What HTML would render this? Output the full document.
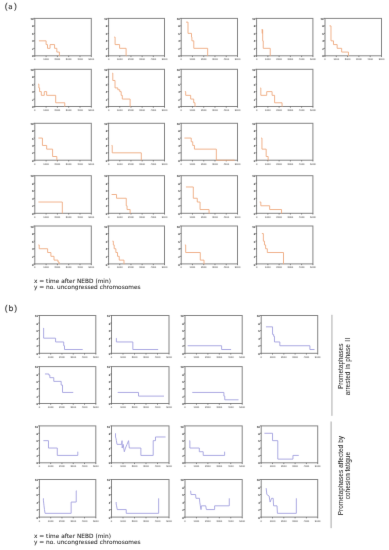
<!DOCTYPE html>
<html><head><meta charset="utf-8"><title>Figure</title>
<style>
html,body{margin:0;padding:0;background:#fff;width:389px;height:550px;overflow:hidden}
svg{display:block}
.xtb{text-rendering:geometricPrecision;font-family:"Liberation Sans",Arial,sans-serif;font-size:2.55px;fill:#3c3c3c;text-anchor:middle}
.yt{text-rendering:geometricPrecision;font-family:"Liberation Sans",Arial,sans-serif;font-size:2.8px;fill:#383838;stroke:#383838;stroke-width:0.1px;text-anchor:end}
.xt{text-rendering:geometricPrecision;font-family:"Liberation Sans",Arial,sans-serif;font-size:3.1px;fill:#383838;stroke:#383838;stroke-width:0.1px;text-anchor:middle}
.cap{font-family:"DejaVu Sans","Liberation Sans",sans-serif;font-size:5.8px;fill:#1a1a1a;stroke:#1a1a1a;stroke-width:0.04px}
.pl{text-rendering:geometricPrecision;font-family:"Liberation Sans",Arial,sans-serif;font-size:8.6px;fill:#333;stroke:#333;stroke-width:0.1px}
.side{font-family:"Liberation Sans",Arial,sans-serif;font-size:6.5px;fill:#2a2a2a;stroke:#2a2a2a;stroke-width:0.03px;text-anchor:middle}
</style></head>
<body>
<svg width="389" height="550" viewBox="0 0 389 550">
<defs><filter id="bl" x="0" y="0" width="389" height="550" filterUnits="userSpaceOnUse"><feConvolveMatrix order="3" kernelMatrix="1 16 1 16 256 16 1 16 1" edgeMode="none"/></filter></defs>
<rect width="389" height="550" fill="#fff"/>
<g filter="url(#bl)">
<text x="4.8" y="8.9" class="pl">(<tspan dx="0.54" dy="-0.3" font-size="7.2" stroke-width="0.12" font-family="DejaVu Sans">a</tspan><tspan dx="1.35" dy="0.3">)</tspan></text>
<text x="4.8" y="310.9" class="pl">(<tspan dx="0.9" font-size="7.8" stroke-width="0.14" font-family="DejaVu Sans">b</tspan><tspan dx="0.6">)</tspan></text>
<rect x="34.80" y="18.40" width="56.50" height="37.40" fill="none" stroke="#858585" stroke-width="1.0"/>
<line x1="33.50" y1="55.80" x2="34.80" y2="55.80" stroke="#444" stroke-width="0.6"/>
<text x="33.50" y="57.40" class="yt">0</text>
<line x1="33.50" y1="48.32" x2="34.80" y2="48.32" stroke="#444" stroke-width="0.6"/>
<text x="33.50" y="49.92" class="yt">2</text>
<line x1="33.50" y1="40.84" x2="34.80" y2="40.84" stroke="#444" stroke-width="0.6"/>
<text x="33.50" y="42.44" class="yt">4</text>
<line x1="33.50" y1="33.36" x2="34.80" y2="33.36" stroke="#444" stroke-width="0.6"/>
<text x="33.50" y="34.96" class="yt">6</text>
<line x1="33.50" y1="25.88" x2="34.80" y2="25.88" stroke="#444" stroke-width="0.6"/>
<text x="33.50" y="27.48" class="yt">8</text>
<line x1="33.50" y1="18.40" x2="34.80" y2="18.40" stroke="#444" stroke-width="0.6"/>
<text x="33.50" y="20.00" class="yt">10</text>
<line x1="34.80" y1="55.80" x2="34.80" y2="57.10" stroke="#444" stroke-width="0.6"/>
<text x="34.80" y="60.20" class="xtb">0</text>
<line x1="46.10" y1="55.80" x2="46.10" y2="57.10" stroke="#444" stroke-width="0.6"/>
<text x="46.10" y="60.20" class="xtb">1000</text>
<line x1="57.40" y1="55.80" x2="57.40" y2="57.10" stroke="#444" stroke-width="0.6"/>
<text x="57.40" y="60.20" class="xtb">2000</text>
<line x1="68.70" y1="55.80" x2="68.70" y2="57.10" stroke="#444" stroke-width="0.6"/>
<text x="68.70" y="60.20" class="xtb">3000</text>
<line x1="80.00" y1="55.80" x2="80.00" y2="57.10" stroke="#444" stroke-width="0.6"/>
<text x="80.00" y="60.20" class="xtb">4000</text>
<line x1="91.30" y1="55.80" x2="91.30" y2="57.10" stroke="#444" stroke-width="0.6"/>
<text x="91.30" y="60.20" class="xtb">5000</text>
<polyline points="38.92,40.84 46.10,40.84 46.10,44.58 47.51,44.58 47.51,48.32 50.05,48.32 50.05,44.58 54.57,44.58 54.57,48.32 56.83,48.32 56.83,52.06 59.38,52.06 59.38,55.80 59.94,55.80" fill="none" stroke="#eeaa80" stroke-width="0.9" stroke-linejoin="round"/>
<rect x="108.60" y="18.40" width="55.90" height="37.40" fill="none" stroke="#858585" stroke-width="1.0"/>
<line x1="107.30" y1="55.80" x2="108.60" y2="55.80" stroke="#444" stroke-width="0.6"/>
<text x="107.30" y="57.40" class="yt">0</text>
<line x1="107.30" y1="48.32" x2="108.60" y2="48.32" stroke="#444" stroke-width="0.6"/>
<text x="107.30" y="49.92" class="yt">2</text>
<line x1="107.30" y1="40.84" x2="108.60" y2="40.84" stroke="#444" stroke-width="0.6"/>
<text x="107.30" y="42.44" class="yt">4</text>
<line x1="107.30" y1="33.36" x2="108.60" y2="33.36" stroke="#444" stroke-width="0.6"/>
<text x="107.30" y="34.96" class="yt">6</text>
<line x1="107.30" y1="25.88" x2="108.60" y2="25.88" stroke="#444" stroke-width="0.6"/>
<text x="107.30" y="27.48" class="yt">8</text>
<line x1="107.30" y1="18.40" x2="108.60" y2="18.40" stroke="#444" stroke-width="0.6"/>
<text x="107.30" y="20.00" class="yt">10</text>
<line x1="108.60" y1="55.80" x2="108.60" y2="57.10" stroke="#444" stroke-width="0.6"/>
<text x="108.60" y="60.20" class="xtb">0</text>
<line x1="119.78" y1="55.80" x2="119.78" y2="57.10" stroke="#444" stroke-width="0.6"/>
<text x="119.78" y="60.20" class="xtb">1000</text>
<line x1="130.96" y1="55.80" x2="130.96" y2="57.10" stroke="#444" stroke-width="0.6"/>
<text x="130.96" y="60.20" class="xtb">2000</text>
<line x1="142.14" y1="55.80" x2="142.14" y2="57.10" stroke="#444" stroke-width="0.6"/>
<text x="142.14" y="60.20" class="xtb">3000</text>
<line x1="153.32" y1="55.80" x2="153.32" y2="57.10" stroke="#444" stroke-width="0.6"/>
<text x="153.32" y="60.20" class="xtb">4000</text>
<line x1="164.50" y1="55.80" x2="164.50" y2="57.10" stroke="#444" stroke-width="0.6"/>
<text x="164.50" y="60.20" class="xtb">5000</text>
<polyline points="114.19,37.10 115.08,37.10 115.08,44.58 119.61,44.58 119.61,48.32 126.10,48.32 126.10,55.80 126.38,55.80" fill="none" stroke="#eeaa80" stroke-width="0.9" stroke-linejoin="round"/>
<rect x="181.20" y="18.40" width="56.30" height="37.40" fill="none" stroke="#858585" stroke-width="1.0"/>
<line x1="179.90" y1="55.80" x2="181.20" y2="55.80" stroke="#444" stroke-width="0.6"/>
<text x="179.90" y="57.40" class="yt">0</text>
<line x1="179.90" y1="48.32" x2="181.20" y2="48.32" stroke="#444" stroke-width="0.6"/>
<text x="179.90" y="49.92" class="yt">2</text>
<line x1="179.90" y1="40.84" x2="181.20" y2="40.84" stroke="#444" stroke-width="0.6"/>
<text x="179.90" y="42.44" class="yt">4</text>
<line x1="179.90" y1="33.36" x2="181.20" y2="33.36" stroke="#444" stroke-width="0.6"/>
<text x="179.90" y="34.96" class="yt">6</text>
<line x1="179.90" y1="25.88" x2="181.20" y2="25.88" stroke="#444" stroke-width="0.6"/>
<text x="179.90" y="27.48" class="yt">8</text>
<line x1="179.90" y1="18.40" x2="181.20" y2="18.40" stroke="#444" stroke-width="0.6"/>
<text x="179.90" y="20.00" class="yt">10</text>
<line x1="181.20" y1="55.80" x2="181.20" y2="57.10" stroke="#444" stroke-width="0.6"/>
<text x="181.20" y="60.20" class="xtb">0</text>
<line x1="192.46" y1="55.80" x2="192.46" y2="57.10" stroke="#444" stroke-width="0.6"/>
<text x="192.46" y="60.20" class="xtb">1000</text>
<line x1="203.72" y1="55.80" x2="203.72" y2="57.10" stroke="#444" stroke-width="0.6"/>
<text x="203.72" y="60.20" class="xtb">2000</text>
<line x1="214.98" y1="55.80" x2="214.98" y2="57.10" stroke="#444" stroke-width="0.6"/>
<text x="214.98" y="60.20" class="xtb">3000</text>
<line x1="226.24" y1="55.80" x2="226.24" y2="57.10" stroke="#444" stroke-width="0.6"/>
<text x="226.24" y="60.20" class="xtb">4000</text>
<line x1="237.50" y1="55.80" x2="237.50" y2="57.10" stroke="#444" stroke-width="0.6"/>
<text x="237.50" y="60.20" class="xtb">5000</text>
<polyline points="185.99,22.14 188.01,22.14 188.01,33.36 191.50,33.36 191.50,37.10 191.90,37.10 191.90,40.84 193.81,40.84 193.81,48.32 207.66,48.32 207.66,55.80 207.94,55.80" fill="none" stroke="#eeaa80" stroke-width="0.9" stroke-linejoin="round"/>
<rect x="256.60" y="18.40" width="56.30" height="37.40" fill="none" stroke="#858585" stroke-width="1.0"/>
<line x1="255.30" y1="55.80" x2="256.60" y2="55.80" stroke="#444" stroke-width="0.6"/>
<text x="255.30" y="57.40" class="yt">0</text>
<line x1="255.30" y1="48.32" x2="256.60" y2="48.32" stroke="#444" stroke-width="0.6"/>
<text x="255.30" y="49.92" class="yt">2</text>
<line x1="255.30" y1="40.84" x2="256.60" y2="40.84" stroke="#444" stroke-width="0.6"/>
<text x="255.30" y="42.44" class="yt">4</text>
<line x1="255.30" y1="33.36" x2="256.60" y2="33.36" stroke="#444" stroke-width="0.6"/>
<text x="255.30" y="34.96" class="yt">6</text>
<line x1="255.30" y1="25.88" x2="256.60" y2="25.88" stroke="#444" stroke-width="0.6"/>
<text x="255.30" y="27.48" class="yt">8</text>
<line x1="255.30" y1="18.40" x2="256.60" y2="18.40" stroke="#444" stroke-width="0.6"/>
<text x="255.30" y="20.00" class="yt">10</text>
<line x1="256.60" y1="55.80" x2="256.60" y2="57.10" stroke="#444" stroke-width="0.6"/>
<text x="256.60" y="60.20" class="xtb">0</text>
<line x1="267.86" y1="55.80" x2="267.86" y2="57.10" stroke="#444" stroke-width="0.6"/>
<text x="267.86" y="60.20" class="xtb">1000</text>
<line x1="279.12" y1="55.80" x2="279.12" y2="57.10" stroke="#444" stroke-width="0.6"/>
<text x="279.12" y="60.20" class="xtb">2000</text>
<line x1="290.38" y1="55.80" x2="290.38" y2="57.10" stroke="#444" stroke-width="0.6"/>
<text x="290.38" y="60.20" class="xtb">3000</text>
<line x1="301.64" y1="55.80" x2="301.64" y2="57.10" stroke="#444" stroke-width="0.6"/>
<text x="301.64" y="60.20" class="xtb">4000</text>
<line x1="312.90" y1="55.80" x2="312.90" y2="57.10" stroke="#444" stroke-width="0.6"/>
<text x="312.90" y="60.20" class="xtb">5000</text>
<polyline points="261.67,29.62 262.23,29.62 262.23,33.36 262.40,33.36 262.40,29.62 262.68,29.62 262.68,40.84 263.24,40.84 263.24,48.32 270.22,48.32 270.22,55.80 270.45,55.80" fill="none" stroke="#eeaa80" stroke-width="0.9" stroke-linejoin="round"/>
<rect x="325.00" y="18.40" width="56.50" height="37.40" fill="none" stroke="#858585" stroke-width="1.0"/>
<line x1="323.70" y1="55.80" x2="325.00" y2="55.80" stroke="#444" stroke-width="0.6"/>
<text x="323.70" y="57.40" class="yt">0</text>
<line x1="323.70" y1="48.32" x2="325.00" y2="48.32" stroke="#444" stroke-width="0.6"/>
<text x="323.70" y="49.92" class="yt">2</text>
<line x1="323.70" y1="40.84" x2="325.00" y2="40.84" stroke="#444" stroke-width="0.6"/>
<text x="323.70" y="42.44" class="yt">4</text>
<line x1="323.70" y1="33.36" x2="325.00" y2="33.36" stroke="#444" stroke-width="0.6"/>
<text x="323.70" y="34.96" class="yt">6</text>
<line x1="323.70" y1="25.88" x2="325.00" y2="25.88" stroke="#444" stroke-width="0.6"/>
<text x="323.70" y="27.48" class="yt">8</text>
<line x1="323.70" y1="18.40" x2="325.00" y2="18.40" stroke="#444" stroke-width="0.6"/>
<text x="323.70" y="20.00" class="yt">10</text>
<line x1="325.00" y1="55.80" x2="325.00" y2="57.10" stroke="#444" stroke-width="0.6"/>
<text x="325.00" y="60.20" class="xtb">0</text>
<line x1="336.30" y1="55.80" x2="336.30" y2="57.10" stroke="#444" stroke-width="0.6"/>
<text x="336.30" y="60.20" class="xtb">1000</text>
<line x1="347.60" y1="55.80" x2="347.60" y2="57.10" stroke="#444" stroke-width="0.6"/>
<text x="347.60" y="60.20" class="xtb">2000</text>
<line x1="358.90" y1="55.80" x2="358.90" y2="57.10" stroke="#444" stroke-width="0.6"/>
<text x="358.90" y="60.20" class="xtb">3000</text>
<line x1="370.20" y1="55.80" x2="370.20" y2="57.10" stroke="#444" stroke-width="0.6"/>
<text x="370.20" y="60.20" class="xtb">4000</text>
<line x1="381.50" y1="55.80" x2="381.50" y2="57.10" stroke="#444" stroke-width="0.6"/>
<text x="381.50" y="60.20" class="xtb">5000</text>
<polyline points="329.46,25.88 330.99,25.88 330.99,40.84 333.48,40.84 333.48,44.58 337.15,44.58 337.15,48.32 341.67,48.32 341.67,52.06 348.45,52.06 348.45,55.80 348.73,55.80" fill="none" stroke="#eeaa80" stroke-width="0.9" stroke-linejoin="round"/>
<rect x="34.80" y="69.30" width="56.50" height="37.20" fill="none" stroke="#858585" stroke-width="1.0"/>
<line x1="33.50" y1="106.50" x2="34.80" y2="106.50" stroke="#444" stroke-width="0.6"/>
<text x="33.50" y="108.10" class="yt">0</text>
<line x1="33.50" y1="99.06" x2="34.80" y2="99.06" stroke="#444" stroke-width="0.6"/>
<text x="33.50" y="100.66" class="yt">2</text>
<line x1="33.50" y1="91.62" x2="34.80" y2="91.62" stroke="#444" stroke-width="0.6"/>
<text x="33.50" y="93.22" class="yt">4</text>
<line x1="33.50" y1="84.18" x2="34.80" y2="84.18" stroke="#444" stroke-width="0.6"/>
<text x="33.50" y="85.78" class="yt">6</text>
<line x1="33.50" y1="76.74" x2="34.80" y2="76.74" stroke="#444" stroke-width="0.6"/>
<text x="33.50" y="78.34" class="yt">8</text>
<line x1="33.50" y1="69.30" x2="34.80" y2="69.30" stroke="#444" stroke-width="0.6"/>
<text x="33.50" y="70.90" class="yt">10</text>
<line x1="34.80" y1="106.50" x2="34.80" y2="107.80" stroke="#444" stroke-width="0.6"/>
<text x="34.80" y="110.90" class="xtb">0</text>
<line x1="46.10" y1="106.50" x2="46.10" y2="107.80" stroke="#444" stroke-width="0.6"/>
<text x="46.10" y="110.90" class="xtb">1000</text>
<line x1="57.40" y1="106.50" x2="57.40" y2="107.80" stroke="#444" stroke-width="0.6"/>
<text x="57.40" y="110.90" class="xtb">2000</text>
<line x1="68.70" y1="106.50" x2="68.70" y2="107.80" stroke="#444" stroke-width="0.6"/>
<text x="68.70" y="110.90" class="xtb">3000</text>
<line x1="80.00" y1="106.50" x2="80.00" y2="107.80" stroke="#444" stroke-width="0.6"/>
<text x="80.00" y="110.90" class="xtb">4000</text>
<line x1="91.30" y1="106.50" x2="91.30" y2="107.80" stroke="#444" stroke-width="0.6"/>
<text x="91.30" y="110.90" class="xtb">5000</text>
<polyline points="38.08,84.18 38.87,84.18 38.87,87.90 39.60,87.90 39.60,91.62 41.30,91.62 41.30,95.34 44.29,95.34 44.29,91.62 46.66,91.62 46.66,95.34 55.70,95.34 55.70,102.78 64.75,102.78 64.75,106.50 65.03,106.50" fill="none" stroke="#eeaa80" stroke-width="0.9" stroke-linejoin="round"/>
<rect x="108.60" y="69.30" width="55.90" height="37.20" fill="none" stroke="#858585" stroke-width="1.0"/>
<line x1="107.30" y1="106.50" x2="108.60" y2="106.50" stroke="#444" stroke-width="0.6"/>
<text x="107.30" y="108.10" class="yt">0</text>
<line x1="107.30" y1="99.06" x2="108.60" y2="99.06" stroke="#444" stroke-width="0.6"/>
<text x="107.30" y="100.66" class="yt">2</text>
<line x1="107.30" y1="91.62" x2="108.60" y2="91.62" stroke="#444" stroke-width="0.6"/>
<text x="107.30" y="93.22" class="yt">4</text>
<line x1="107.30" y1="84.18" x2="108.60" y2="84.18" stroke="#444" stroke-width="0.6"/>
<text x="107.30" y="85.78" class="yt">6</text>
<line x1="107.30" y1="76.74" x2="108.60" y2="76.74" stroke="#444" stroke-width="0.6"/>
<text x="107.30" y="78.34" class="yt">8</text>
<line x1="107.30" y1="69.30" x2="108.60" y2="69.30" stroke="#444" stroke-width="0.6"/>
<text x="107.30" y="70.90" class="yt">10</text>
<line x1="108.60" y1="106.50" x2="108.60" y2="107.80" stroke="#444" stroke-width="0.6"/>
<text x="108.60" y="110.90" class="xtb">0</text>
<line x1="119.78" y1="106.50" x2="119.78" y2="107.80" stroke="#444" stroke-width="0.6"/>
<text x="119.78" y="110.90" class="xtb">1000</text>
<line x1="130.96" y1="106.50" x2="130.96" y2="107.80" stroke="#444" stroke-width="0.6"/>
<text x="130.96" y="110.90" class="xtb">2000</text>
<line x1="142.14" y1="106.50" x2="142.14" y2="107.80" stroke="#444" stroke-width="0.6"/>
<text x="142.14" y="110.90" class="xtb">3000</text>
<line x1="153.32" y1="106.50" x2="153.32" y2="107.80" stroke="#444" stroke-width="0.6"/>
<text x="153.32" y="110.90" class="xtb">4000</text>
<line x1="164.50" y1="106.50" x2="164.50" y2="107.80" stroke="#444" stroke-width="0.6"/>
<text x="164.50" y="110.90" class="xtb">5000</text>
<polyline points="112.40,73.02 112.79,73.02 112.79,80.46 115.03,80.46 115.03,87.90 117.82,87.90 117.82,89.76 119.78,89.76 119.78,91.62 121.18,91.62 121.18,95.34 122.30,95.34 122.30,99.06 130.12,99.06 130.12,106.50 130.40,106.50" fill="none" stroke="#eeaa80" stroke-width="0.9" stroke-linejoin="round"/>
<rect x="181.20" y="69.30" width="56.30" height="37.20" fill="none" stroke="#858585" stroke-width="1.0"/>
<line x1="179.90" y1="106.50" x2="181.20" y2="106.50" stroke="#444" stroke-width="0.6"/>
<text x="179.90" y="108.10" class="yt">0</text>
<line x1="179.90" y1="99.06" x2="181.20" y2="99.06" stroke="#444" stroke-width="0.6"/>
<text x="179.90" y="100.66" class="yt">2</text>
<line x1="179.90" y1="91.62" x2="181.20" y2="91.62" stroke="#444" stroke-width="0.6"/>
<text x="179.90" y="93.22" class="yt">4</text>
<line x1="179.90" y1="84.18" x2="181.20" y2="84.18" stroke="#444" stroke-width="0.6"/>
<text x="179.90" y="85.78" class="yt">6</text>
<line x1="179.90" y1="76.74" x2="181.20" y2="76.74" stroke="#444" stroke-width="0.6"/>
<text x="179.90" y="78.34" class="yt">8</text>
<line x1="179.90" y1="69.30" x2="181.20" y2="69.30" stroke="#444" stroke-width="0.6"/>
<text x="179.90" y="70.90" class="yt">10</text>
<line x1="181.20" y1="106.50" x2="181.20" y2="107.80" stroke="#444" stroke-width="0.6"/>
<text x="181.20" y="110.90" class="xtb">0</text>
<line x1="192.46" y1="106.50" x2="192.46" y2="107.80" stroke="#444" stroke-width="0.6"/>
<text x="192.46" y="110.90" class="xtb">1000</text>
<line x1="203.72" y1="106.50" x2="203.72" y2="107.80" stroke="#444" stroke-width="0.6"/>
<text x="203.72" y="110.90" class="xtb">2000</text>
<line x1="214.98" y1="106.50" x2="214.98" y2="107.80" stroke="#444" stroke-width="0.6"/>
<text x="214.98" y="110.90" class="xtb">3000</text>
<line x1="226.24" y1="106.50" x2="226.24" y2="107.80" stroke="#444" stroke-width="0.6"/>
<text x="226.24" y="110.90" class="xtb">4000</text>
<line x1="237.50" y1="106.50" x2="237.50" y2="107.80" stroke="#444" stroke-width="0.6"/>
<text x="237.50" y="110.90" class="xtb">5000</text>
<polyline points="184.86,91.62 185.70,91.62 185.70,95.34 190.66,95.34 190.66,99.06 193.70,99.06 193.70,102.78 194.99,102.78 194.99,106.50 195.27,106.50" fill="none" stroke="#eeaa80" stroke-width="0.9" stroke-linejoin="round"/>
<rect x="256.60" y="69.30" width="56.30" height="37.20" fill="none" stroke="#858585" stroke-width="1.0"/>
<line x1="255.30" y1="106.50" x2="256.60" y2="106.50" stroke="#444" stroke-width="0.6"/>
<text x="255.30" y="108.10" class="yt">0</text>
<line x1="255.30" y1="99.06" x2="256.60" y2="99.06" stroke="#444" stroke-width="0.6"/>
<text x="255.30" y="100.66" class="yt">2</text>
<line x1="255.30" y1="91.62" x2="256.60" y2="91.62" stroke="#444" stroke-width="0.6"/>
<text x="255.30" y="93.22" class="yt">4</text>
<line x1="255.30" y1="84.18" x2="256.60" y2="84.18" stroke="#444" stroke-width="0.6"/>
<text x="255.30" y="85.78" class="yt">6</text>
<line x1="255.30" y1="76.74" x2="256.60" y2="76.74" stroke="#444" stroke-width="0.6"/>
<text x="255.30" y="78.34" class="yt">8</text>
<line x1="255.30" y1="69.30" x2="256.60" y2="69.30" stroke="#444" stroke-width="0.6"/>
<text x="255.30" y="70.90" class="yt">10</text>
<line x1="256.60" y1="106.50" x2="256.60" y2="107.80" stroke="#444" stroke-width="0.6"/>
<text x="256.60" y="110.90" class="xtb">0</text>
<line x1="267.86" y1="106.50" x2="267.86" y2="107.80" stroke="#444" stroke-width="0.6"/>
<text x="267.86" y="110.90" class="xtb">1000</text>
<line x1="279.12" y1="106.50" x2="279.12" y2="107.80" stroke="#444" stroke-width="0.6"/>
<text x="279.12" y="110.90" class="xtb">2000</text>
<line x1="290.38" y1="106.50" x2="290.38" y2="107.80" stroke="#444" stroke-width="0.6"/>
<text x="290.38" y="110.90" class="xtb">3000</text>
<line x1="301.64" y1="106.50" x2="301.64" y2="107.80" stroke="#444" stroke-width="0.6"/>
<text x="301.64" y="110.90" class="xtb">4000</text>
<line x1="312.90" y1="106.50" x2="312.90" y2="107.80" stroke="#444" stroke-width="0.6"/>
<text x="312.90" y="110.90" class="xtb">5000</text>
<polyline points="260.37,87.90 260.82,87.90 260.82,95.34 266.73,95.34 266.73,91.62 272.08,91.62 272.08,95.34 274.62,95.34 274.62,102.78 282.05,102.78 282.05,106.50 282.22,106.50" fill="none" stroke="#eeaa80" stroke-width="0.9" stroke-linejoin="round"/>
<rect x="34.80" y="123.30" width="56.50" height="36.90" fill="none" stroke="#858585" stroke-width="1.0"/>
<line x1="33.50" y1="160.20" x2="34.80" y2="160.20" stroke="#444" stroke-width="0.6"/>
<text x="33.50" y="161.80" class="yt">0</text>
<line x1="33.50" y1="152.82" x2="34.80" y2="152.82" stroke="#444" stroke-width="0.6"/>
<text x="33.50" y="154.42" class="yt">2</text>
<line x1="33.50" y1="145.44" x2="34.80" y2="145.44" stroke="#444" stroke-width="0.6"/>
<text x="33.50" y="147.04" class="yt">4</text>
<line x1="33.50" y1="138.06" x2="34.80" y2="138.06" stroke="#444" stroke-width="0.6"/>
<text x="33.50" y="139.66" class="yt">6</text>
<line x1="33.50" y1="130.68" x2="34.80" y2="130.68" stroke="#444" stroke-width="0.6"/>
<text x="33.50" y="132.28" class="yt">8</text>
<line x1="33.50" y1="123.30" x2="34.80" y2="123.30" stroke="#444" stroke-width="0.6"/>
<text x="33.50" y="124.90" class="yt">10</text>
<line x1="34.80" y1="160.20" x2="34.80" y2="161.50" stroke="#444" stroke-width="0.6"/>
<text x="34.80" y="164.60" class="xtb">0</text>
<line x1="46.10" y1="160.20" x2="46.10" y2="161.50" stroke="#444" stroke-width="0.6"/>
<text x="46.10" y="164.60" class="xtb">1000</text>
<line x1="57.40" y1="160.20" x2="57.40" y2="161.50" stroke="#444" stroke-width="0.6"/>
<text x="57.40" y="164.60" class="xtb">2000</text>
<line x1="68.70" y1="160.20" x2="68.70" y2="161.50" stroke="#444" stroke-width="0.6"/>
<text x="68.70" y="164.60" class="xtb">3000</text>
<line x1="80.00" y1="160.20" x2="80.00" y2="161.50" stroke="#444" stroke-width="0.6"/>
<text x="80.00" y="164.60" class="xtb">4000</text>
<line x1="91.30" y1="160.20" x2="91.30" y2="161.50" stroke="#444" stroke-width="0.6"/>
<text x="91.30" y="164.60" class="xtb">5000</text>
<polyline points="38.42,138.06 42.43,138.06 42.43,145.44 46.66,145.44 46.66,149.13 52.60,149.13 52.60,156.51 56.83,156.51 56.83,160.20 57.12,160.20" fill="none" stroke="#eeaa80" stroke-width="0.9" stroke-linejoin="round"/>
<rect x="108.60" y="123.30" width="55.90" height="36.90" fill="none" stroke="#858585" stroke-width="1.0"/>
<line x1="107.30" y1="160.20" x2="108.60" y2="160.20" stroke="#444" stroke-width="0.6"/>
<text x="107.30" y="161.80" class="yt">0</text>
<line x1="107.30" y1="152.82" x2="108.60" y2="152.82" stroke="#444" stroke-width="0.6"/>
<text x="107.30" y="154.42" class="yt">2</text>
<line x1="107.30" y1="145.44" x2="108.60" y2="145.44" stroke="#444" stroke-width="0.6"/>
<text x="107.30" y="147.04" class="yt">4</text>
<line x1="107.30" y1="138.06" x2="108.60" y2="138.06" stroke="#444" stroke-width="0.6"/>
<text x="107.30" y="139.66" class="yt">6</text>
<line x1="107.30" y1="130.68" x2="108.60" y2="130.68" stroke="#444" stroke-width="0.6"/>
<text x="107.30" y="132.28" class="yt">8</text>
<line x1="107.30" y1="123.30" x2="108.60" y2="123.30" stroke="#444" stroke-width="0.6"/>
<text x="107.30" y="124.90" class="yt">10</text>
<line x1="108.60" y1="160.20" x2="108.60" y2="161.50" stroke="#444" stroke-width="0.6"/>
<text x="108.60" y="164.60" class="xtb">0</text>
<line x1="119.78" y1="160.20" x2="119.78" y2="161.50" stroke="#444" stroke-width="0.6"/>
<text x="119.78" y="164.60" class="xtb">1000</text>
<line x1="130.96" y1="160.20" x2="130.96" y2="161.50" stroke="#444" stroke-width="0.6"/>
<text x="130.96" y="164.60" class="xtb">2000</text>
<line x1="142.14" y1="160.20" x2="142.14" y2="161.50" stroke="#444" stroke-width="0.6"/>
<text x="142.14" y="164.60" class="xtb">3000</text>
<line x1="153.32" y1="160.20" x2="153.32" y2="161.50" stroke="#444" stroke-width="0.6"/>
<text x="153.32" y="164.60" class="xtb">4000</text>
<line x1="164.50" y1="160.20" x2="164.50" y2="161.50" stroke="#444" stroke-width="0.6"/>
<text x="164.50" y="164.60" class="xtb">5000</text>
<polyline points="111.62,145.44 112.23,145.44 112.23,152.82 141.30,152.82 141.30,160.20 141.58,160.20" fill="none" stroke="#eeaa80" stroke-width="0.9" stroke-linejoin="round"/>
<rect x="181.20" y="123.30" width="56.30" height="36.90" fill="none" stroke="#858585" stroke-width="1.0"/>
<line x1="179.90" y1="160.20" x2="181.20" y2="160.20" stroke="#444" stroke-width="0.6"/>
<text x="179.90" y="161.80" class="yt">0</text>
<line x1="179.90" y1="152.82" x2="181.20" y2="152.82" stroke="#444" stroke-width="0.6"/>
<text x="179.90" y="154.42" class="yt">2</text>
<line x1="179.90" y1="145.44" x2="181.20" y2="145.44" stroke="#444" stroke-width="0.6"/>
<text x="179.90" y="147.04" class="yt">4</text>
<line x1="179.90" y1="138.06" x2="181.20" y2="138.06" stroke="#444" stroke-width="0.6"/>
<text x="179.90" y="139.66" class="yt">6</text>
<line x1="179.90" y1="130.68" x2="181.20" y2="130.68" stroke="#444" stroke-width="0.6"/>
<text x="179.90" y="132.28" class="yt">8</text>
<line x1="179.90" y1="123.30" x2="181.20" y2="123.30" stroke="#444" stroke-width="0.6"/>
<text x="179.90" y="124.90" class="yt">10</text>
<line x1="181.20" y1="160.20" x2="181.20" y2="161.50" stroke="#444" stroke-width="0.6"/>
<text x="181.20" y="164.60" class="xtb">0</text>
<line x1="192.46" y1="160.20" x2="192.46" y2="161.50" stroke="#444" stroke-width="0.6"/>
<text x="192.46" y="164.60" class="xtb">1000</text>
<line x1="203.72" y1="160.20" x2="203.72" y2="161.50" stroke="#444" stroke-width="0.6"/>
<text x="203.72" y="164.60" class="xtb">2000</text>
<line x1="214.98" y1="160.20" x2="214.98" y2="161.50" stroke="#444" stroke-width="0.6"/>
<text x="214.98" y="164.60" class="xtb">3000</text>
<line x1="226.24" y1="160.20" x2="226.24" y2="161.50" stroke="#444" stroke-width="0.6"/>
<text x="226.24" y="164.60" class="xtb">4000</text>
<line x1="237.50" y1="160.20" x2="237.50" y2="161.50" stroke="#444" stroke-width="0.6"/>
<text x="237.50" y="164.60" class="xtb">5000</text>
<polyline points="184.41,138.06 191.22,138.06 191.22,141.75 192.74,141.75 192.74,145.44 194.43,145.44 194.43,149.13 216.33,149.13 216.33,160.20 234.69,160.20" fill="none" stroke="#eeaa80" stroke-width="0.9" stroke-linejoin="round"/>
<rect x="256.60" y="123.30" width="56.30" height="36.90" fill="none" stroke="#858585" stroke-width="1.0"/>
<line x1="255.30" y1="160.20" x2="256.60" y2="160.20" stroke="#444" stroke-width="0.6"/>
<text x="255.30" y="161.80" class="yt">0</text>
<line x1="255.30" y1="152.82" x2="256.60" y2="152.82" stroke="#444" stroke-width="0.6"/>
<text x="255.30" y="154.42" class="yt">2</text>
<line x1="255.30" y1="145.44" x2="256.60" y2="145.44" stroke="#444" stroke-width="0.6"/>
<text x="255.30" y="147.04" class="yt">4</text>
<line x1="255.30" y1="138.06" x2="256.60" y2="138.06" stroke="#444" stroke-width="0.6"/>
<text x="255.30" y="139.66" class="yt">6</text>
<line x1="255.30" y1="130.68" x2="256.60" y2="130.68" stroke="#444" stroke-width="0.6"/>
<text x="255.30" y="132.28" class="yt">8</text>
<line x1="255.30" y1="123.30" x2="256.60" y2="123.30" stroke="#444" stroke-width="0.6"/>
<text x="255.30" y="124.90" class="yt">10</text>
<line x1="256.60" y1="160.20" x2="256.60" y2="161.50" stroke="#444" stroke-width="0.6"/>
<text x="256.60" y="164.60" class="xtb">0</text>
<line x1="267.86" y1="160.20" x2="267.86" y2="161.50" stroke="#444" stroke-width="0.6"/>
<text x="267.86" y="164.60" class="xtb">1000</text>
<line x1="279.12" y1="160.20" x2="279.12" y2="161.50" stroke="#444" stroke-width="0.6"/>
<text x="279.12" y="164.60" class="xtb">2000</text>
<line x1="290.38" y1="160.20" x2="290.38" y2="161.50" stroke="#444" stroke-width="0.6"/>
<text x="290.38" y="164.60" class="xtb">3000</text>
<line x1="301.64" y1="160.20" x2="301.64" y2="161.50" stroke="#444" stroke-width="0.6"/>
<text x="301.64" y="164.60" class="xtb">4000</text>
<line x1="312.90" y1="160.20" x2="312.90" y2="161.50" stroke="#444" stroke-width="0.6"/>
<text x="312.90" y="164.60" class="xtb">5000</text>
<polyline points="261.16,138.06 261.95,138.06 261.95,149.13 266.17,149.13 266.17,156.51 268.14,156.51 268.14,160.20 268.42,160.20" fill="none" stroke="#eeaa80" stroke-width="0.9" stroke-linejoin="round"/>
<rect x="34.80" y="175.70" width="56.50" height="37.60" fill="none" stroke="#858585" stroke-width="1.0"/>
<line x1="33.50" y1="213.30" x2="34.80" y2="213.30" stroke="#444" stroke-width="0.6"/>
<text x="33.50" y="214.90" class="yt">0</text>
<line x1="33.50" y1="205.78" x2="34.80" y2="205.78" stroke="#444" stroke-width="0.6"/>
<text x="33.50" y="207.38" class="yt">2</text>
<line x1="33.50" y1="198.26" x2="34.80" y2="198.26" stroke="#444" stroke-width="0.6"/>
<text x="33.50" y="199.86" class="yt">4</text>
<line x1="33.50" y1="190.74" x2="34.80" y2="190.74" stroke="#444" stroke-width="0.6"/>
<text x="33.50" y="192.34" class="yt">6</text>
<line x1="33.50" y1="183.22" x2="34.80" y2="183.22" stroke="#444" stroke-width="0.6"/>
<text x="33.50" y="184.82" class="yt">8</text>
<line x1="33.50" y1="175.70" x2="34.80" y2="175.70" stroke="#444" stroke-width="0.6"/>
<text x="33.50" y="177.30" class="yt">10</text>
<line x1="34.80" y1="213.30" x2="34.80" y2="214.60" stroke="#444" stroke-width="0.6"/>
<text x="34.80" y="217.70" class="xtb">0</text>
<line x1="46.10" y1="213.30" x2="46.10" y2="214.60" stroke="#444" stroke-width="0.6"/>
<text x="46.10" y="217.70" class="xtb">1000</text>
<line x1="57.40" y1="213.30" x2="57.40" y2="214.60" stroke="#444" stroke-width="0.6"/>
<text x="57.40" y="217.70" class="xtb">2000</text>
<line x1="68.70" y1="213.30" x2="68.70" y2="214.60" stroke="#444" stroke-width="0.6"/>
<text x="68.70" y="217.70" class="xtb">3000</text>
<line x1="80.00" y1="213.30" x2="80.00" y2="214.60" stroke="#444" stroke-width="0.6"/>
<text x="80.00" y="217.70" class="xtb">4000</text>
<line x1="91.30" y1="213.30" x2="91.30" y2="214.60" stroke="#444" stroke-width="0.6"/>
<text x="91.30" y="217.70" class="xtb">5000</text>
<polyline points="38.42,202.02 62.32,202.02 62.32,213.30 62.48,213.30" fill="none" stroke="#eeaa80" stroke-width="0.9" stroke-linejoin="round"/>
<rect x="108.60" y="175.70" width="55.90" height="37.60" fill="none" stroke="#858585" stroke-width="1.0"/>
<line x1="107.30" y1="213.30" x2="108.60" y2="213.30" stroke="#444" stroke-width="0.6"/>
<text x="107.30" y="214.90" class="yt">0</text>
<line x1="107.30" y1="205.78" x2="108.60" y2="205.78" stroke="#444" stroke-width="0.6"/>
<text x="107.30" y="207.38" class="yt">2</text>
<line x1="107.30" y1="198.26" x2="108.60" y2="198.26" stroke="#444" stroke-width="0.6"/>
<text x="107.30" y="199.86" class="yt">4</text>
<line x1="107.30" y1="190.74" x2="108.60" y2="190.74" stroke="#444" stroke-width="0.6"/>
<text x="107.30" y="192.34" class="yt">6</text>
<line x1="107.30" y1="183.22" x2="108.60" y2="183.22" stroke="#444" stroke-width="0.6"/>
<text x="107.30" y="184.82" class="yt">8</text>
<line x1="107.30" y1="175.70" x2="108.60" y2="175.70" stroke="#444" stroke-width="0.6"/>
<text x="107.30" y="177.30" class="yt">10</text>
<line x1="108.60" y1="213.30" x2="108.60" y2="214.60" stroke="#444" stroke-width="0.6"/>
<text x="108.60" y="217.70" class="xtb">0</text>
<line x1="119.78" y1="213.30" x2="119.78" y2="214.60" stroke="#444" stroke-width="0.6"/>
<text x="119.78" y="217.70" class="xtb">1000</text>
<line x1="130.96" y1="213.30" x2="130.96" y2="214.60" stroke="#444" stroke-width="0.6"/>
<text x="130.96" y="217.70" class="xtb">2000</text>
<line x1="142.14" y1="213.30" x2="142.14" y2="214.60" stroke="#444" stroke-width="0.6"/>
<text x="142.14" y="217.70" class="xtb">3000</text>
<line x1="153.32" y1="213.30" x2="153.32" y2="214.60" stroke="#444" stroke-width="0.6"/>
<text x="153.32" y="217.70" class="xtb">4000</text>
<line x1="164.50" y1="213.30" x2="164.50" y2="214.60" stroke="#444" stroke-width="0.6"/>
<text x="164.50" y="217.70" class="xtb">5000</text>
<polyline points="111.62,194.50 116.54,194.50 116.54,198.26 126.26,198.26 126.26,205.78 127.05,205.78 127.05,209.54 130.12,209.54 130.12,213.30 130.40,213.30" fill="none" stroke="#eeaa80" stroke-width="0.9" stroke-linejoin="round"/>
<rect x="181.20" y="175.70" width="56.30" height="37.60" fill="none" stroke="#858585" stroke-width="1.0"/>
<line x1="179.90" y1="213.30" x2="181.20" y2="213.30" stroke="#444" stroke-width="0.6"/>
<text x="179.90" y="214.90" class="yt">0</text>
<line x1="179.90" y1="205.78" x2="181.20" y2="205.78" stroke="#444" stroke-width="0.6"/>
<text x="179.90" y="207.38" class="yt">2</text>
<line x1="179.90" y1="198.26" x2="181.20" y2="198.26" stroke="#444" stroke-width="0.6"/>
<text x="179.90" y="199.86" class="yt">4</text>
<line x1="179.90" y1="190.74" x2="181.20" y2="190.74" stroke="#444" stroke-width="0.6"/>
<text x="179.90" y="192.34" class="yt">6</text>
<line x1="179.90" y1="183.22" x2="181.20" y2="183.22" stroke="#444" stroke-width="0.6"/>
<text x="179.90" y="184.82" class="yt">8</text>
<line x1="179.90" y1="175.70" x2="181.20" y2="175.70" stroke="#444" stroke-width="0.6"/>
<text x="179.90" y="177.30" class="yt">10</text>
<line x1="181.20" y1="213.30" x2="181.20" y2="214.60" stroke="#444" stroke-width="0.6"/>
<text x="181.20" y="217.70" class="xtb">0</text>
<line x1="192.46" y1="213.30" x2="192.46" y2="214.60" stroke="#444" stroke-width="0.6"/>
<text x="192.46" y="217.70" class="xtb">1000</text>
<line x1="203.72" y1="213.30" x2="203.72" y2="214.60" stroke="#444" stroke-width="0.6"/>
<text x="203.72" y="217.70" class="xtb">2000</text>
<line x1="214.98" y1="213.30" x2="214.98" y2="214.60" stroke="#444" stroke-width="0.6"/>
<text x="214.98" y="217.70" class="xtb">3000</text>
<line x1="226.24" y1="213.30" x2="226.24" y2="214.60" stroke="#444" stroke-width="0.6"/>
<text x="226.24" y="217.70" class="xtb">4000</text>
<line x1="237.50" y1="213.30" x2="237.50" y2="214.60" stroke="#444" stroke-width="0.6"/>
<text x="237.50" y="217.70" class="xtb">5000</text>
<polyline points="185.93,186.98 193.30,186.98 193.30,198.26 197.25,198.26 197.25,202.02 200.06,202.02 200.06,209.54 209.07,209.54 209.07,213.30 209.35,213.30" fill="none" stroke="#eeaa80" stroke-width="0.9" stroke-linejoin="round"/>
<rect x="256.60" y="175.70" width="56.30" height="37.60" fill="none" stroke="#858585" stroke-width="1.0"/>
<line x1="255.30" y1="213.30" x2="256.60" y2="213.30" stroke="#444" stroke-width="0.6"/>
<text x="255.30" y="214.90" class="yt">0</text>
<line x1="255.30" y1="205.78" x2="256.60" y2="205.78" stroke="#444" stroke-width="0.6"/>
<text x="255.30" y="207.38" class="yt">2</text>
<line x1="255.30" y1="198.26" x2="256.60" y2="198.26" stroke="#444" stroke-width="0.6"/>
<text x="255.30" y="199.86" class="yt">4</text>
<line x1="255.30" y1="190.74" x2="256.60" y2="190.74" stroke="#444" stroke-width="0.6"/>
<text x="255.30" y="192.34" class="yt">6</text>
<line x1="255.30" y1="183.22" x2="256.60" y2="183.22" stroke="#444" stroke-width="0.6"/>
<text x="255.30" y="184.82" class="yt">8</text>
<line x1="255.30" y1="175.70" x2="256.60" y2="175.70" stroke="#444" stroke-width="0.6"/>
<text x="255.30" y="177.30" class="yt">10</text>
<line x1="256.60" y1="213.30" x2="256.60" y2="214.60" stroke="#444" stroke-width="0.6"/>
<text x="256.60" y="217.70" class="xtb">0</text>
<line x1="267.86" y1="213.30" x2="267.86" y2="214.60" stroke="#444" stroke-width="0.6"/>
<text x="267.86" y="217.70" class="xtb">1000</text>
<line x1="279.12" y1="213.30" x2="279.12" y2="214.60" stroke="#444" stroke-width="0.6"/>
<text x="279.12" y="217.70" class="xtb">2000</text>
<line x1="290.38" y1="213.30" x2="290.38" y2="214.60" stroke="#444" stroke-width="0.6"/>
<text x="290.38" y="217.70" class="xtb">3000</text>
<line x1="301.64" y1="213.30" x2="301.64" y2="214.60" stroke="#444" stroke-width="0.6"/>
<text x="301.64" y="217.70" class="xtb">4000</text>
<line x1="312.90" y1="213.30" x2="312.90" y2="214.60" stroke="#444" stroke-width="0.6"/>
<text x="312.90" y="217.70" class="xtb">5000</text>
<polyline points="259.64,202.02 260.82,202.02 260.82,205.78 269.66,205.78 269.66,209.54 281.54,209.54 281.54,213.30 281.77,213.30" fill="none" stroke="#eeaa80" stroke-width="0.9" stroke-linejoin="round"/>
<rect x="34.80" y="226.00" width="56.50" height="37.90" fill="none" stroke="#858585" stroke-width="1.0"/>
<line x1="33.50" y1="263.90" x2="34.80" y2="263.90" stroke="#444" stroke-width="0.6"/>
<text x="33.50" y="265.50" class="yt">0</text>
<line x1="33.50" y1="256.32" x2="34.80" y2="256.32" stroke="#444" stroke-width="0.6"/>
<text x="33.50" y="257.92" class="yt">2</text>
<line x1="33.50" y1="248.74" x2="34.80" y2="248.74" stroke="#444" stroke-width="0.6"/>
<text x="33.50" y="250.34" class="yt">4</text>
<line x1="33.50" y1="241.16" x2="34.80" y2="241.16" stroke="#444" stroke-width="0.6"/>
<text x="33.50" y="242.76" class="yt">6</text>
<line x1="33.50" y1="233.58" x2="34.80" y2="233.58" stroke="#444" stroke-width="0.6"/>
<text x="33.50" y="235.18" class="yt">8</text>
<line x1="33.50" y1="226.00" x2="34.80" y2="226.00" stroke="#444" stroke-width="0.6"/>
<text x="33.50" y="227.60" class="yt">10</text>
<line x1="34.80" y1="263.90" x2="34.80" y2="265.20" stroke="#444" stroke-width="0.6"/>
<text x="34.80" y="268.30" class="xtb">0</text>
<line x1="46.10" y1="263.90" x2="46.10" y2="265.20" stroke="#444" stroke-width="0.6"/>
<text x="46.10" y="268.30" class="xtb">1000</text>
<line x1="57.40" y1="263.90" x2="57.40" y2="265.20" stroke="#444" stroke-width="0.6"/>
<text x="57.40" y="268.30" class="xtb">2000</text>
<line x1="68.70" y1="263.90" x2="68.70" y2="265.20" stroke="#444" stroke-width="0.6"/>
<text x="68.70" y="268.30" class="xtb">3000</text>
<line x1="80.00" y1="263.90" x2="80.00" y2="265.20" stroke="#444" stroke-width="0.6"/>
<text x="80.00" y="268.30" class="xtb">4000</text>
<line x1="91.30" y1="263.90" x2="91.30" y2="265.20" stroke="#444" stroke-width="0.6"/>
<text x="91.30" y="268.30" class="xtb">5000</text>
<polyline points="38.42,244.95 39.21,244.95 39.21,248.74 47.63,248.74 47.63,252.53 50.90,252.53 50.90,256.32 54.01,256.32 54.01,260.11 57.96,260.11 57.96,262.00 59.09,262.00 59.09,263.90 59.38,263.90" fill="none" stroke="#eeaa80" stroke-width="0.9" stroke-linejoin="round"/>
<rect x="108.60" y="226.00" width="55.90" height="37.90" fill="none" stroke="#858585" stroke-width="1.0"/>
<line x1="107.30" y1="263.90" x2="108.60" y2="263.90" stroke="#444" stroke-width="0.6"/>
<text x="107.30" y="265.50" class="yt">0</text>
<line x1="107.30" y1="256.32" x2="108.60" y2="256.32" stroke="#444" stroke-width="0.6"/>
<text x="107.30" y="257.92" class="yt">2</text>
<line x1="107.30" y1="248.74" x2="108.60" y2="248.74" stroke="#444" stroke-width="0.6"/>
<text x="107.30" y="250.34" class="yt">4</text>
<line x1="107.30" y1="241.16" x2="108.60" y2="241.16" stroke="#444" stroke-width="0.6"/>
<text x="107.30" y="242.76" class="yt">6</text>
<line x1="107.30" y1="233.58" x2="108.60" y2="233.58" stroke="#444" stroke-width="0.6"/>
<text x="107.30" y="235.18" class="yt">8</text>
<line x1="107.30" y1="226.00" x2="108.60" y2="226.00" stroke="#444" stroke-width="0.6"/>
<text x="107.30" y="227.60" class="yt">10</text>
<line x1="108.60" y1="263.90" x2="108.60" y2="265.20" stroke="#444" stroke-width="0.6"/>
<text x="108.60" y="268.30" class="xtb">0</text>
<line x1="119.78" y1="263.90" x2="119.78" y2="265.20" stroke="#444" stroke-width="0.6"/>
<text x="119.78" y="268.30" class="xtb">1000</text>
<line x1="130.96" y1="263.90" x2="130.96" y2="265.20" stroke="#444" stroke-width="0.6"/>
<text x="130.96" y="268.30" class="xtb">2000</text>
<line x1="142.14" y1="263.90" x2="142.14" y2="265.20" stroke="#444" stroke-width="0.6"/>
<text x="142.14" y="268.30" class="xtb">3000</text>
<line x1="153.32" y1="263.90" x2="153.32" y2="265.20" stroke="#444" stroke-width="0.6"/>
<text x="153.32" y="268.30" class="xtb">4000</text>
<line x1="164.50" y1="263.90" x2="164.50" y2="265.20" stroke="#444" stroke-width="0.6"/>
<text x="164.50" y="268.30" class="xtb">5000</text>
<polyline points="112.40,241.16 113.35,241.16 113.35,244.95 114.19,244.95 114.19,248.74 115.87,248.74 115.87,252.53 117.54,252.53 117.54,256.32 119.22,256.32 119.22,260.11 123.97,260.11 123.97,263.90 124.25,263.90" fill="none" stroke="#eeaa80" stroke-width="0.9" stroke-linejoin="round"/>
<rect x="181.20" y="226.00" width="56.30" height="37.90" fill="none" stroke="#858585" stroke-width="1.0"/>
<line x1="179.90" y1="263.90" x2="181.20" y2="263.90" stroke="#444" stroke-width="0.6"/>
<text x="179.90" y="265.50" class="yt">0</text>
<line x1="179.90" y1="256.32" x2="181.20" y2="256.32" stroke="#444" stroke-width="0.6"/>
<text x="179.90" y="257.92" class="yt">2</text>
<line x1="179.90" y1="248.74" x2="181.20" y2="248.74" stroke="#444" stroke-width="0.6"/>
<text x="179.90" y="250.34" class="yt">4</text>
<line x1="179.90" y1="241.16" x2="181.20" y2="241.16" stroke="#444" stroke-width="0.6"/>
<text x="179.90" y="242.76" class="yt">6</text>
<line x1="179.90" y1="233.58" x2="181.20" y2="233.58" stroke="#444" stroke-width="0.6"/>
<text x="179.90" y="235.18" class="yt">8</text>
<line x1="179.90" y1="226.00" x2="181.20" y2="226.00" stroke="#444" stroke-width="0.6"/>
<text x="179.90" y="227.60" class="yt">10</text>
<line x1="181.20" y1="263.90" x2="181.20" y2="265.20" stroke="#444" stroke-width="0.6"/>
<text x="181.20" y="268.30" class="xtb">0</text>
<line x1="192.46" y1="263.90" x2="192.46" y2="265.20" stroke="#444" stroke-width="0.6"/>
<text x="192.46" y="268.30" class="xtb">1000</text>
<line x1="203.72" y1="263.90" x2="203.72" y2="265.20" stroke="#444" stroke-width="0.6"/>
<text x="203.72" y="268.30" class="xtb">2000</text>
<line x1="214.98" y1="263.90" x2="214.98" y2="265.20" stroke="#444" stroke-width="0.6"/>
<text x="214.98" y="268.30" class="xtb">3000</text>
<line x1="226.24" y1="263.90" x2="226.24" y2="265.20" stroke="#444" stroke-width="0.6"/>
<text x="226.24" y="268.30" class="xtb">4000</text>
<line x1="237.50" y1="263.90" x2="237.50" y2="265.20" stroke="#444" stroke-width="0.6"/>
<text x="237.50" y="268.30" class="xtb">5000</text>
<polyline points="184.86,244.95 185.70,244.95 185.70,252.53 200.29,252.53 200.29,260.11 204.00,260.11 204.00,263.90 204.28,263.90" fill="none" stroke="#eeaa80" stroke-width="0.9" stroke-linejoin="round"/>
<rect x="256.60" y="226.00" width="56.30" height="37.90" fill="none" stroke="#858585" stroke-width="1.0"/>
<line x1="255.30" y1="263.90" x2="256.60" y2="263.90" stroke="#444" stroke-width="0.6"/>
<text x="255.30" y="265.50" class="yt">0</text>
<line x1="255.30" y1="256.32" x2="256.60" y2="256.32" stroke="#444" stroke-width="0.6"/>
<text x="255.30" y="257.92" class="yt">2</text>
<line x1="255.30" y1="248.74" x2="256.60" y2="248.74" stroke="#444" stroke-width="0.6"/>
<text x="255.30" y="250.34" class="yt">4</text>
<line x1="255.30" y1="241.16" x2="256.60" y2="241.16" stroke="#444" stroke-width="0.6"/>
<text x="255.30" y="242.76" class="yt">6</text>
<line x1="255.30" y1="233.58" x2="256.60" y2="233.58" stroke="#444" stroke-width="0.6"/>
<text x="255.30" y="235.18" class="yt">8</text>
<line x1="255.30" y1="226.00" x2="256.60" y2="226.00" stroke="#444" stroke-width="0.6"/>
<text x="255.30" y="227.60" class="yt">10</text>
<line x1="256.60" y1="263.90" x2="256.60" y2="265.20" stroke="#444" stroke-width="0.6"/>
<text x="256.60" y="268.30" class="xtb">0</text>
<line x1="267.86" y1="263.90" x2="267.86" y2="265.20" stroke="#444" stroke-width="0.6"/>
<text x="267.86" y="268.30" class="xtb">1000</text>
<line x1="279.12" y1="263.90" x2="279.12" y2="265.20" stroke="#444" stroke-width="0.6"/>
<text x="279.12" y="268.30" class="xtb">2000</text>
<line x1="290.38" y1="263.90" x2="290.38" y2="265.20" stroke="#444" stroke-width="0.6"/>
<text x="290.38" y="268.30" class="xtb">3000</text>
<line x1="301.64" y1="263.90" x2="301.64" y2="265.20" stroke="#444" stroke-width="0.6"/>
<text x="301.64" y="268.30" class="xtb">4000</text>
<line x1="312.90" y1="263.90" x2="312.90" y2="265.20" stroke="#444" stroke-width="0.6"/>
<text x="312.90" y="268.30" class="xtb">5000</text>
<polyline points="261.89,233.58 263.36,233.58 263.36,241.16 264.48,241.16 264.48,244.95 265.61,244.95 265.61,248.74 267.30,248.74 267.30,252.53 283.51,252.53 283.51,263.90 283.74,263.90" fill="none" stroke="#eeaa80" stroke-width="0.9" stroke-linejoin="round"/>
<rect x="39.40" y="315.50" width="56.40" height="37.80" fill="none" stroke="#858585" stroke-width="1.0"/>
<line x1="38.10" y1="353.30" x2="39.40" y2="353.30" stroke="#444" stroke-width="0.6"/>
<text x="38.10" y="354.90" class="yt">0</text>
<line x1="38.10" y1="345.74" x2="39.40" y2="345.74" stroke="#444" stroke-width="0.6"/>
<text x="38.10" y="347.34" class="yt">2</text>
<line x1="38.10" y1="338.18" x2="39.40" y2="338.18" stroke="#444" stroke-width="0.6"/>
<text x="38.10" y="339.78" class="yt">4</text>
<line x1="38.10" y1="330.62" x2="39.40" y2="330.62" stroke="#444" stroke-width="0.6"/>
<text x="38.10" y="332.22" class="yt">6</text>
<line x1="38.10" y1="323.06" x2="39.40" y2="323.06" stroke="#444" stroke-width="0.6"/>
<text x="38.10" y="324.66" class="yt">8</text>
<line x1="38.10" y1="315.50" x2="39.40" y2="315.50" stroke="#444" stroke-width="0.6"/>
<text x="38.10" y="317.10" class="yt">10</text>
<line x1="39.40" y1="353.30" x2="39.40" y2="354.60" stroke="#444" stroke-width="0.6"/>
<text x="39.40" y="357.70" class="xtb">0</text>
<line x1="50.68" y1="353.30" x2="50.68" y2="354.60" stroke="#444" stroke-width="0.6"/>
<text x="50.68" y="357.70" class="xtb">1000</text>
<line x1="61.96" y1="353.30" x2="61.96" y2="354.60" stroke="#444" stroke-width="0.6"/>
<text x="61.96" y="357.70" class="xtb">2000</text>
<line x1="73.24" y1="353.30" x2="73.24" y2="354.60" stroke="#444" stroke-width="0.6"/>
<text x="73.24" y="357.70" class="xtb">3000</text>
<line x1="84.52" y1="353.30" x2="84.52" y2="354.60" stroke="#444" stroke-width="0.6"/>
<text x="84.52" y="357.70" class="xtb">4000</text>
<line x1="95.80" y1="353.30" x2="95.80" y2="354.60" stroke="#444" stroke-width="0.6"/>
<text x="95.80" y="357.70" class="xtb">5000</text>
<polyline points="43.52,327.97 43.63,327.97 43.63,338.18 55.59,338.18 55.59,341.96 63.71,341.96 63.71,345.74 64.50,345.74 64.50,349.52 82.72,349.52" fill="none" stroke="#a3a0df" stroke-width="0.9" stroke-linejoin="round"/>
<rect x="111.50" y="315.50" width="57.50" height="37.80" fill="none" stroke="#858585" stroke-width="1.0"/>
<line x1="110.20" y1="353.30" x2="111.50" y2="353.30" stroke="#444" stroke-width="0.6"/>
<text x="110.20" y="354.90" class="yt">0</text>
<line x1="110.20" y1="345.74" x2="111.50" y2="345.74" stroke="#444" stroke-width="0.6"/>
<text x="110.20" y="347.34" class="yt">2</text>
<line x1="110.20" y1="338.18" x2="111.50" y2="338.18" stroke="#444" stroke-width="0.6"/>
<text x="110.20" y="339.78" class="yt">4</text>
<line x1="110.20" y1="330.62" x2="111.50" y2="330.62" stroke="#444" stroke-width="0.6"/>
<text x="110.20" y="332.22" class="yt">6</text>
<line x1="110.20" y1="323.06" x2="111.50" y2="323.06" stroke="#444" stroke-width="0.6"/>
<text x="110.20" y="324.66" class="yt">8</text>
<line x1="110.20" y1="315.50" x2="111.50" y2="315.50" stroke="#444" stroke-width="0.6"/>
<text x="110.20" y="317.10" class="yt">10</text>
<line x1="111.50" y1="353.30" x2="111.50" y2="354.60" stroke="#444" stroke-width="0.6"/>
<text x="111.50" y="357.70" class="xtb">0</text>
<line x1="123.00" y1="353.30" x2="123.00" y2="354.60" stroke="#444" stroke-width="0.6"/>
<text x="123.00" y="357.70" class="xtb">1000</text>
<line x1="134.50" y1="353.30" x2="134.50" y2="354.60" stroke="#444" stroke-width="0.6"/>
<text x="134.50" y="357.70" class="xtb">2000</text>
<line x1="146.00" y1="353.30" x2="146.00" y2="354.60" stroke="#444" stroke-width="0.6"/>
<text x="146.00" y="357.70" class="xtb">3000</text>
<line x1="157.50" y1="353.30" x2="157.50" y2="354.60" stroke="#444" stroke-width="0.6"/>
<text x="157.50" y="357.70" class="xtb">4000</text>
<line x1="169.00" y1="353.30" x2="169.00" y2="354.60" stroke="#444" stroke-width="0.6"/>
<text x="169.00" y="357.70" class="xtb">5000</text>
<polyline points="116.16,338.18 116.39,338.18 116.39,341.96 132.83,341.96 132.83,349.52 158.19,349.52" fill="none" stroke="#a3a0df" stroke-width="0.9" stroke-linejoin="round"/>
<rect x="185.00" y="315.50" width="57.20" height="37.80" fill="none" stroke="#858585" stroke-width="1.0"/>
<line x1="183.70" y1="353.30" x2="185.00" y2="353.30" stroke="#444" stroke-width="0.6"/>
<text x="183.70" y="354.90" class="yt">0</text>
<line x1="183.70" y1="345.74" x2="185.00" y2="345.74" stroke="#444" stroke-width="0.6"/>
<text x="183.70" y="347.34" class="yt">2</text>
<line x1="183.70" y1="338.18" x2="185.00" y2="338.18" stroke="#444" stroke-width="0.6"/>
<text x="183.70" y="339.78" class="yt">4</text>
<line x1="183.70" y1="330.62" x2="185.00" y2="330.62" stroke="#444" stroke-width="0.6"/>
<text x="183.70" y="332.22" class="yt">6</text>
<line x1="183.70" y1="323.06" x2="185.00" y2="323.06" stroke="#444" stroke-width="0.6"/>
<text x="183.70" y="324.66" class="yt">8</text>
<line x1="183.70" y1="315.50" x2="185.00" y2="315.50" stroke="#444" stroke-width="0.6"/>
<text x="183.70" y="317.10" class="yt">10</text>
<line x1="185.00" y1="353.30" x2="185.00" y2="354.60" stroke="#444" stroke-width="0.6"/>
<text x="185.00" y="357.70" class="xtb">0</text>
<line x1="196.44" y1="353.30" x2="196.44" y2="354.60" stroke="#444" stroke-width="0.6"/>
<text x="196.44" y="357.70" class="xtb">1000</text>
<line x1="207.88" y1="353.30" x2="207.88" y2="354.60" stroke="#444" stroke-width="0.6"/>
<text x="207.88" y="357.70" class="xtb">2000</text>
<line x1="219.32" y1="353.30" x2="219.32" y2="354.60" stroke="#444" stroke-width="0.6"/>
<text x="219.32" y="357.70" class="xtb">3000</text>
<line x1="230.76" y1="353.30" x2="230.76" y2="354.60" stroke="#444" stroke-width="0.6"/>
<text x="230.76" y="357.70" class="xtb">4000</text>
<line x1="242.20" y1="353.30" x2="242.20" y2="354.60" stroke="#444" stroke-width="0.6"/>
<text x="242.20" y="357.70" class="xtb">5000</text>
<polyline points="187.63,345.74 221.61,345.74 221.61,349.52 231.10,349.52" fill="none" stroke="#a3a0df" stroke-width="0.9" stroke-linejoin="round"/>
<rect x="261.20" y="315.50" width="56.50" height="37.80" fill="none" stroke="#858585" stroke-width="1.0"/>
<line x1="259.90" y1="353.30" x2="261.20" y2="353.30" stroke="#444" stroke-width="0.6"/>
<text x="259.90" y="354.90" class="yt">0</text>
<line x1="259.90" y1="345.74" x2="261.20" y2="345.74" stroke="#444" stroke-width="0.6"/>
<text x="259.90" y="347.34" class="yt">2</text>
<line x1="259.90" y1="338.18" x2="261.20" y2="338.18" stroke="#444" stroke-width="0.6"/>
<text x="259.90" y="339.78" class="yt">4</text>
<line x1="259.90" y1="330.62" x2="261.20" y2="330.62" stroke="#444" stroke-width="0.6"/>
<text x="259.90" y="332.22" class="yt">6</text>
<line x1="259.90" y1="323.06" x2="261.20" y2="323.06" stroke="#444" stroke-width="0.6"/>
<text x="259.90" y="324.66" class="yt">8</text>
<line x1="259.90" y1="315.50" x2="261.20" y2="315.50" stroke="#444" stroke-width="0.6"/>
<text x="259.90" y="317.10" class="yt">10</text>
<line x1="261.20" y1="353.30" x2="261.20" y2="354.60" stroke="#444" stroke-width="0.6"/>
<text x="261.20" y="357.70" class="xtb">0</text>
<line x1="272.50" y1="353.30" x2="272.50" y2="354.60" stroke="#444" stroke-width="0.6"/>
<text x="272.50" y="357.70" class="xtb">1000</text>
<line x1="283.80" y1="353.30" x2="283.80" y2="354.60" stroke="#444" stroke-width="0.6"/>
<text x="283.80" y="357.70" class="xtb">2000</text>
<line x1="295.10" y1="353.30" x2="295.10" y2="354.60" stroke="#444" stroke-width="0.6"/>
<text x="295.10" y="357.70" class="xtb">3000</text>
<line x1="306.40" y1="353.30" x2="306.40" y2="354.60" stroke="#444" stroke-width="0.6"/>
<text x="306.40" y="357.70" class="xtb">4000</text>
<line x1="317.70" y1="353.30" x2="317.70" y2="354.60" stroke="#444" stroke-width="0.6"/>
<text x="317.70" y="357.70" class="xtb">5000</text>
<polyline points="265.95,326.84 272.56,326.84 272.56,334.40 273.63,334.40 273.63,336.29 274.48,336.29 274.48,341.96 279.84,341.96 279.84,345.74 309.90,345.74 309.90,349.52 314.54,349.52" fill="none" stroke="#a3a0df" stroke-width="0.9" stroke-linejoin="round"/>
<rect x="39.40" y="366.60" width="56.40" height="36.90" fill="none" stroke="#858585" stroke-width="1.0"/>
<line x1="38.10" y1="403.50" x2="39.40" y2="403.50" stroke="#444" stroke-width="0.6"/>
<text x="38.10" y="405.10" class="yt">0</text>
<line x1="38.10" y1="396.12" x2="39.40" y2="396.12" stroke="#444" stroke-width="0.6"/>
<text x="38.10" y="397.72" class="yt">2</text>
<line x1="38.10" y1="388.74" x2="39.40" y2="388.74" stroke="#444" stroke-width="0.6"/>
<text x="38.10" y="390.34" class="yt">4</text>
<line x1="38.10" y1="381.36" x2="39.40" y2="381.36" stroke="#444" stroke-width="0.6"/>
<text x="38.10" y="382.96" class="yt">6</text>
<line x1="38.10" y1="373.98" x2="39.40" y2="373.98" stroke="#444" stroke-width="0.6"/>
<text x="38.10" y="375.58" class="yt">8</text>
<line x1="38.10" y1="366.60" x2="39.40" y2="366.60" stroke="#444" stroke-width="0.6"/>
<text x="38.10" y="368.20" class="yt">10</text>
<line x1="39.40" y1="403.50" x2="39.40" y2="404.80" stroke="#444" stroke-width="0.6"/>
<text x="39.40" y="407.90" class="xtb">0</text>
<line x1="50.68" y1="403.50" x2="50.68" y2="404.80" stroke="#444" stroke-width="0.6"/>
<text x="50.68" y="407.90" class="xtb">1000</text>
<line x1="61.96" y1="403.50" x2="61.96" y2="404.80" stroke="#444" stroke-width="0.6"/>
<text x="61.96" y="407.90" class="xtb">2000</text>
<line x1="73.24" y1="403.50" x2="73.24" y2="404.80" stroke="#444" stroke-width="0.6"/>
<text x="73.24" y="407.90" class="xtb">3000</text>
<line x1="84.52" y1="403.50" x2="84.52" y2="404.80" stroke="#444" stroke-width="0.6"/>
<text x="84.52" y="407.90" class="xtb">4000</text>
<line x1="95.80" y1="403.50" x2="95.80" y2="404.80" stroke="#444" stroke-width="0.6"/>
<text x="95.80" y="407.90" class="xtb">5000</text>
<polyline points="44.93,373.98 48.82,373.98 48.82,375.09 49.83,375.09 49.83,377.67 53.78,377.67 53.78,381.36 61.17,381.36 61.17,385.05 62.52,385.05 62.52,392.43 73.24,392.43" fill="none" stroke="#a3a0df" stroke-width="0.9" stroke-linejoin="round"/>
<rect x="111.50" y="366.60" width="57.50" height="36.90" fill="none" stroke="#858585" stroke-width="1.0"/>
<line x1="110.20" y1="403.50" x2="111.50" y2="403.50" stroke="#444" stroke-width="0.6"/>
<text x="110.20" y="405.10" class="yt">0</text>
<line x1="110.20" y1="396.12" x2="111.50" y2="396.12" stroke="#444" stroke-width="0.6"/>
<text x="110.20" y="397.72" class="yt">2</text>
<line x1="110.20" y1="388.74" x2="111.50" y2="388.74" stroke="#444" stroke-width="0.6"/>
<text x="110.20" y="390.34" class="yt">4</text>
<line x1="110.20" y1="381.36" x2="111.50" y2="381.36" stroke="#444" stroke-width="0.6"/>
<text x="110.20" y="382.96" class="yt">6</text>
<line x1="110.20" y1="373.98" x2="111.50" y2="373.98" stroke="#444" stroke-width="0.6"/>
<text x="110.20" y="375.58" class="yt">8</text>
<line x1="110.20" y1="366.60" x2="111.50" y2="366.60" stroke="#444" stroke-width="0.6"/>
<text x="110.20" y="368.20" class="yt">10</text>
<line x1="111.50" y1="403.50" x2="111.50" y2="404.80" stroke="#444" stroke-width="0.6"/>
<text x="111.50" y="407.90" class="xtb">0</text>
<line x1="123.00" y1="403.50" x2="123.00" y2="404.80" stroke="#444" stroke-width="0.6"/>
<text x="123.00" y="407.90" class="xtb">1000</text>
<line x1="134.50" y1="403.50" x2="134.50" y2="404.80" stroke="#444" stroke-width="0.6"/>
<text x="134.50" y="407.90" class="xtb">2000</text>
<line x1="146.00" y1="403.50" x2="146.00" y2="404.80" stroke="#444" stroke-width="0.6"/>
<text x="146.00" y="407.90" class="xtb">3000</text>
<line x1="157.50" y1="403.50" x2="157.50" y2="404.80" stroke="#444" stroke-width="0.6"/>
<text x="157.50" y="407.90" class="xtb">4000</text>
<line x1="169.00" y1="403.50" x2="169.00" y2="404.80" stroke="#444" stroke-width="0.6"/>
<text x="169.00" y="407.90" class="xtb">5000</text>
<polyline points="117.71,392.43 138.53,392.43 138.53,396.12 164.00,396.12" fill="none" stroke="#a3a0df" stroke-width="0.9" stroke-linejoin="round"/>
<rect x="185.00" y="366.60" width="57.20" height="36.90" fill="none" stroke="#858585" stroke-width="1.0"/>
<line x1="183.70" y1="403.50" x2="185.00" y2="403.50" stroke="#444" stroke-width="0.6"/>
<text x="183.70" y="405.10" class="yt">0</text>
<line x1="183.70" y1="396.12" x2="185.00" y2="396.12" stroke="#444" stroke-width="0.6"/>
<text x="183.70" y="397.72" class="yt">2</text>
<line x1="183.70" y1="388.74" x2="185.00" y2="388.74" stroke="#444" stroke-width="0.6"/>
<text x="183.70" y="390.34" class="yt">4</text>
<line x1="183.70" y1="381.36" x2="185.00" y2="381.36" stroke="#444" stroke-width="0.6"/>
<text x="183.70" y="382.96" class="yt">6</text>
<line x1="183.70" y1="373.98" x2="185.00" y2="373.98" stroke="#444" stroke-width="0.6"/>
<text x="183.70" y="375.58" class="yt">8</text>
<line x1="183.70" y1="366.60" x2="185.00" y2="366.60" stroke="#444" stroke-width="0.6"/>
<text x="183.70" y="368.20" class="yt">10</text>
<line x1="185.00" y1="403.50" x2="185.00" y2="404.80" stroke="#444" stroke-width="0.6"/>
<text x="185.00" y="407.90" class="xtb">0</text>
<line x1="196.44" y1="403.50" x2="196.44" y2="404.80" stroke="#444" stroke-width="0.6"/>
<text x="196.44" y="407.90" class="xtb">1000</text>
<line x1="207.88" y1="403.50" x2="207.88" y2="404.80" stroke="#444" stroke-width="0.6"/>
<text x="207.88" y="407.90" class="xtb">2000</text>
<line x1="219.32" y1="403.50" x2="219.32" y2="404.80" stroke="#444" stroke-width="0.6"/>
<text x="219.32" y="407.90" class="xtb">3000</text>
<line x1="230.76" y1="403.50" x2="230.76" y2="404.80" stroke="#444" stroke-width="0.6"/>
<text x="230.76" y="407.90" class="xtb">4000</text>
<line x1="242.20" y1="403.50" x2="242.20" y2="404.80" stroke="#444" stroke-width="0.6"/>
<text x="242.20" y="407.90" class="xtb">5000</text>
<polyline points="192.26,392.43 223.90,392.43 223.90,396.12 224.75,396.12 224.75,399.81 238.54,399.81" fill="none" stroke="#a3a0df" stroke-width="0.9" stroke-linejoin="round"/>
<rect x="39.40" y="425.90" width="56.40" height="36.90" fill="none" stroke="#858585" stroke-width="1.0"/>
<line x1="38.10" y1="462.80" x2="39.40" y2="462.80" stroke="#444" stroke-width="0.6"/>
<text x="38.10" y="464.40" class="yt">0</text>
<line x1="38.10" y1="455.42" x2="39.40" y2="455.42" stroke="#444" stroke-width="0.6"/>
<text x="38.10" y="457.02" class="yt">2</text>
<line x1="38.10" y1="448.04" x2="39.40" y2="448.04" stroke="#444" stroke-width="0.6"/>
<text x="38.10" y="449.64" class="yt">4</text>
<line x1="38.10" y1="440.66" x2="39.40" y2="440.66" stroke="#444" stroke-width="0.6"/>
<text x="38.10" y="442.26" class="yt">6</text>
<line x1="38.10" y1="433.28" x2="39.40" y2="433.28" stroke="#444" stroke-width="0.6"/>
<text x="38.10" y="434.88" class="yt">8</text>
<line x1="38.10" y1="425.90" x2="39.40" y2="425.90" stroke="#444" stroke-width="0.6"/>
<text x="38.10" y="427.50" class="yt">10</text>
<line x1="39.40" y1="462.80" x2="39.40" y2="464.10" stroke="#444" stroke-width="0.6"/>
<text x="39.40" y="467.20" class="xtb">0</text>
<line x1="50.68" y1="462.80" x2="50.68" y2="464.10" stroke="#444" stroke-width="0.6"/>
<text x="50.68" y="467.20" class="xtb">1000</text>
<line x1="61.96" y1="462.80" x2="61.96" y2="464.10" stroke="#444" stroke-width="0.6"/>
<text x="61.96" y="467.20" class="xtb">2000</text>
<line x1="73.24" y1="462.80" x2="73.24" y2="464.10" stroke="#444" stroke-width="0.6"/>
<text x="73.24" y="467.20" class="xtb">3000</text>
<line x1="84.52" y1="462.80" x2="84.52" y2="464.10" stroke="#444" stroke-width="0.6"/>
<text x="84.52" y="467.20" class="xtb">4000</text>
<line x1="95.80" y1="462.80" x2="95.80" y2="464.10" stroke="#444" stroke-width="0.6"/>
<text x="95.80" y="467.20" class="xtb">5000</text>
<polyline points="43.40,440.66 48.48,440.66 48.48,448.04 57.28,448.04 57.28,455.42 77.81,455.42 77.81,451.73 77.86,451.73" fill="none" stroke="#a3a0df" stroke-width="0.9" stroke-linejoin="round"/>
<rect x="111.50" y="425.90" width="57.50" height="36.90" fill="none" stroke="#858585" stroke-width="1.0"/>
<line x1="110.20" y1="462.80" x2="111.50" y2="462.80" stroke="#444" stroke-width="0.6"/>
<text x="110.20" y="464.40" class="yt">0</text>
<line x1="110.20" y1="455.42" x2="111.50" y2="455.42" stroke="#444" stroke-width="0.6"/>
<text x="110.20" y="457.02" class="yt">2</text>
<line x1="110.20" y1="448.04" x2="111.50" y2="448.04" stroke="#444" stroke-width="0.6"/>
<text x="110.20" y="449.64" class="yt">4</text>
<line x1="110.20" y1="440.66" x2="111.50" y2="440.66" stroke="#444" stroke-width="0.6"/>
<text x="110.20" y="442.26" class="yt">6</text>
<line x1="110.20" y1="433.28" x2="111.50" y2="433.28" stroke="#444" stroke-width="0.6"/>
<text x="110.20" y="434.88" class="yt">8</text>
<line x1="110.20" y1="425.90" x2="111.50" y2="425.90" stroke="#444" stroke-width="0.6"/>
<text x="110.20" y="427.50" class="yt">10</text>
<line x1="111.50" y1="462.80" x2="111.50" y2="464.10" stroke="#444" stroke-width="0.6"/>
<text x="111.50" y="467.20" class="xtb">0</text>
<line x1="123.00" y1="462.80" x2="123.00" y2="464.10" stroke="#444" stroke-width="0.6"/>
<text x="123.00" y="467.20" class="xtb">1000</text>
<line x1="134.50" y1="462.80" x2="134.50" y2="464.10" stroke="#444" stroke-width="0.6"/>
<text x="134.50" y="467.20" class="xtb">2000</text>
<line x1="146.00" y1="462.80" x2="146.00" y2="464.10" stroke="#444" stroke-width="0.6"/>
<text x="146.00" y="467.20" class="xtb">3000</text>
<line x1="157.50" y1="462.80" x2="157.50" y2="464.10" stroke="#444" stroke-width="0.6"/>
<text x="157.50" y="467.20" class="xtb">4000</text>
<line x1="169.00" y1="462.80" x2="169.00" y2="464.10" stroke="#444" stroke-width="0.6"/>
<text x="169.00" y="467.20" class="xtb">5000</text>
<polyline points="115.53,433.28 115.53,436.97 116.10,438.81 116.39,440.66 117.02,444.35 121.62,444.35 122.02,440.66 122.19,448.04 123.17,444.35 124.32,451.73 125.47,448.04 127.03,444.35 128.58,440.66 129.32,448.04 140.88,448.04 140.88,455.42 153.19,455.42 153.19,440.66 155.49,440.66 155.49,436.97 165.55,436.97" fill="none" stroke="#a3a0df" stroke-width="0.9" stroke-linejoin="round"/>
<rect x="185.00" y="425.90" width="57.20" height="36.90" fill="none" stroke="#858585" stroke-width="1.0"/>
<line x1="183.70" y1="462.80" x2="185.00" y2="462.80" stroke="#444" stroke-width="0.6"/>
<text x="183.70" y="464.40" class="yt">0</text>
<line x1="183.70" y1="455.42" x2="185.00" y2="455.42" stroke="#444" stroke-width="0.6"/>
<text x="183.70" y="457.02" class="yt">2</text>
<line x1="183.70" y1="448.04" x2="185.00" y2="448.04" stroke="#444" stroke-width="0.6"/>
<text x="183.70" y="449.64" class="yt">4</text>
<line x1="183.70" y1="440.66" x2="185.00" y2="440.66" stroke="#444" stroke-width="0.6"/>
<text x="183.70" y="442.26" class="yt">6</text>
<line x1="183.70" y1="433.28" x2="185.00" y2="433.28" stroke="#444" stroke-width="0.6"/>
<text x="183.70" y="434.88" class="yt">8</text>
<line x1="183.70" y1="425.90" x2="185.00" y2="425.90" stroke="#444" stroke-width="0.6"/>
<text x="183.70" y="427.50" class="yt">10</text>
<line x1="185.00" y1="462.80" x2="185.00" y2="464.10" stroke="#444" stroke-width="0.6"/>
<text x="185.00" y="467.20" class="xtb">0</text>
<line x1="196.44" y1="462.80" x2="196.44" y2="464.10" stroke="#444" stroke-width="0.6"/>
<text x="196.44" y="467.20" class="xtb">1000</text>
<line x1="207.88" y1="462.80" x2="207.88" y2="464.10" stroke="#444" stroke-width="0.6"/>
<text x="207.88" y="467.20" class="xtb">2000</text>
<line x1="219.32" y1="462.80" x2="219.32" y2="464.10" stroke="#444" stroke-width="0.6"/>
<text x="219.32" y="467.20" class="xtb">3000</text>
<line x1="230.76" y1="462.80" x2="230.76" y2="464.10" stroke="#444" stroke-width="0.6"/>
<text x="230.76" y="467.20" class="xtb">4000</text>
<line x1="242.20" y1="462.80" x2="242.20" y2="464.10" stroke="#444" stroke-width="0.6"/>
<text x="242.20" y="467.20" class="xtb">5000</text>
<polyline points="189.46,440.66 189.86,440.66 189.86,448.04 199.30,448.04 199.30,451.73 203.19,451.73 203.19,455.42 224.64,455.42 224.64,451.73 224.70,451.73" fill="none" stroke="#a3a0df" stroke-width="0.9" stroke-linejoin="round"/>
<rect x="261.20" y="425.90" width="56.50" height="36.90" fill="none" stroke="#858585" stroke-width="1.0"/>
<line x1="259.90" y1="462.80" x2="261.20" y2="462.80" stroke="#444" stroke-width="0.6"/>
<text x="259.90" y="464.40" class="yt">0</text>
<line x1="259.90" y1="455.42" x2="261.20" y2="455.42" stroke="#444" stroke-width="0.6"/>
<text x="259.90" y="457.02" class="yt">2</text>
<line x1="259.90" y1="448.04" x2="261.20" y2="448.04" stroke="#444" stroke-width="0.6"/>
<text x="259.90" y="449.64" class="yt">4</text>
<line x1="259.90" y1="440.66" x2="261.20" y2="440.66" stroke="#444" stroke-width="0.6"/>
<text x="259.90" y="442.26" class="yt">6</text>
<line x1="259.90" y1="433.28" x2="261.20" y2="433.28" stroke="#444" stroke-width="0.6"/>
<text x="259.90" y="434.88" class="yt">8</text>
<line x1="259.90" y1="425.90" x2="261.20" y2="425.90" stroke="#444" stroke-width="0.6"/>
<text x="259.90" y="427.50" class="yt">10</text>
<line x1="261.20" y1="462.80" x2="261.20" y2="464.10" stroke="#444" stroke-width="0.6"/>
<text x="261.20" y="467.20" class="xtb">0</text>
<line x1="272.50" y1="462.80" x2="272.50" y2="464.10" stroke="#444" stroke-width="0.6"/>
<text x="272.50" y="467.20" class="xtb">1000</text>
<line x1="283.80" y1="462.80" x2="283.80" y2="464.10" stroke="#444" stroke-width="0.6"/>
<text x="283.80" y="467.20" class="xtb">2000</text>
<line x1="295.10" y1="462.80" x2="295.10" y2="464.10" stroke="#444" stroke-width="0.6"/>
<text x="295.10" y="467.20" class="xtb">3000</text>
<line x1="306.40" y1="462.80" x2="306.40" y2="464.10" stroke="#444" stroke-width="0.6"/>
<text x="306.40" y="467.20" class="xtb">4000</text>
<line x1="317.70" y1="462.80" x2="317.70" y2="464.10" stroke="#444" stroke-width="0.6"/>
<text x="317.70" y="467.20" class="xtb">5000</text>
<polyline points="264.42,433.28 272.56,433.28 272.56,440.66 277.81,440.66 277.81,459.11 292.95,459.11 292.95,455.42 298.77,455.42" fill="none" stroke="#a3a0df" stroke-width="0.9" stroke-linejoin="round"/>
<rect x="39.40" y="479.50" width="56.40" height="37.60" fill="none" stroke="#858585" stroke-width="1.0"/>
<line x1="38.10" y1="517.10" x2="39.40" y2="517.10" stroke="#444" stroke-width="0.6"/>
<text x="38.10" y="518.70" class="yt">0</text>
<line x1="38.10" y1="509.58" x2="39.40" y2="509.58" stroke="#444" stroke-width="0.6"/>
<text x="38.10" y="511.18" class="yt">2</text>
<line x1="38.10" y1="502.06" x2="39.40" y2="502.06" stroke="#444" stroke-width="0.6"/>
<text x="38.10" y="503.66" class="yt">4</text>
<line x1="38.10" y1="494.54" x2="39.40" y2="494.54" stroke="#444" stroke-width="0.6"/>
<text x="38.10" y="496.14" class="yt">6</text>
<line x1="38.10" y1="487.02" x2="39.40" y2="487.02" stroke="#444" stroke-width="0.6"/>
<text x="38.10" y="488.62" class="yt">8</text>
<line x1="38.10" y1="479.50" x2="39.40" y2="479.50" stroke="#444" stroke-width="0.6"/>
<text x="38.10" y="481.10" class="yt">10</text>
<line x1="39.40" y1="517.10" x2="39.40" y2="518.40" stroke="#444" stroke-width="0.6"/>
<text x="39.40" y="521.50" class="xtb">0</text>
<line x1="50.68" y1="517.10" x2="50.68" y2="518.40" stroke="#444" stroke-width="0.6"/>
<text x="50.68" y="521.50" class="xtb">1000</text>
<line x1="61.96" y1="517.10" x2="61.96" y2="518.40" stroke="#444" stroke-width="0.6"/>
<text x="61.96" y="521.50" class="xtb">2000</text>
<line x1="73.24" y1="517.10" x2="73.24" y2="518.40" stroke="#444" stroke-width="0.6"/>
<text x="73.24" y="521.50" class="xtb">3000</text>
<line x1="84.52" y1="517.10" x2="84.52" y2="518.40" stroke="#444" stroke-width="0.6"/>
<text x="84.52" y="521.50" class="xtb">4000</text>
<line x1="95.80" y1="517.10" x2="95.80" y2="518.40" stroke="#444" stroke-width="0.6"/>
<text x="95.80" y="521.50" class="xtb">5000</text>
<polyline points="43.40,498.30 43.40,500.18 43.80,503.94 44.02,505.82 44.48,509.58 45.04,513.34 71.15,513.34 71.15,502.06 76.23,502.06 76.23,490.78 76.62,490.78" fill="none" stroke="#a3a0df" stroke-width="0.9" stroke-linejoin="round"/>
<rect x="111.50" y="479.50" width="57.50" height="37.60" fill="none" stroke="#858585" stroke-width="1.0"/>
<line x1="110.20" y1="517.10" x2="111.50" y2="517.10" stroke="#444" stroke-width="0.6"/>
<text x="110.20" y="518.70" class="yt">0</text>
<line x1="110.20" y1="509.58" x2="111.50" y2="509.58" stroke="#444" stroke-width="0.6"/>
<text x="110.20" y="511.18" class="yt">2</text>
<line x1="110.20" y1="502.06" x2="111.50" y2="502.06" stroke="#444" stroke-width="0.6"/>
<text x="110.20" y="503.66" class="yt">4</text>
<line x1="110.20" y1="494.54" x2="111.50" y2="494.54" stroke="#444" stroke-width="0.6"/>
<text x="110.20" y="496.14" class="yt">6</text>
<line x1="110.20" y1="487.02" x2="111.50" y2="487.02" stroke="#444" stroke-width="0.6"/>
<text x="110.20" y="488.62" class="yt">8</text>
<line x1="110.20" y1="479.50" x2="111.50" y2="479.50" stroke="#444" stroke-width="0.6"/>
<text x="110.20" y="481.10" class="yt">10</text>
<line x1="111.50" y1="517.10" x2="111.50" y2="518.40" stroke="#444" stroke-width="0.6"/>
<text x="111.50" y="521.50" class="xtb">0</text>
<line x1="123.00" y1="517.10" x2="123.00" y2="518.40" stroke="#444" stroke-width="0.6"/>
<text x="123.00" y="521.50" class="xtb">1000</text>
<line x1="134.50" y1="517.10" x2="134.50" y2="518.40" stroke="#444" stroke-width="0.6"/>
<text x="134.50" y="521.50" class="xtb">2000</text>
<line x1="146.00" y1="517.10" x2="146.00" y2="518.40" stroke="#444" stroke-width="0.6"/>
<text x="146.00" y="521.50" class="xtb">3000</text>
<line x1="157.50" y1="517.10" x2="157.50" y2="518.40" stroke="#444" stroke-width="0.6"/>
<text x="157.50" y="521.50" class="xtb">4000</text>
<line x1="169.00" y1="517.10" x2="169.00" y2="518.40" stroke="#444" stroke-width="0.6"/>
<text x="169.00" y="521.50" class="xtb">5000</text>
<polyline points="116.16,502.06 116.16,503.94 116.56,505.82 117.25,509.58 126.22,509.58 126.22,513.34 158.65,513.34 158.65,498.30" fill="none" stroke="#a3a0df" stroke-width="0.9" stroke-linejoin="round"/>
<rect x="185.00" y="479.50" width="57.20" height="37.60" fill="none" stroke="#858585" stroke-width="1.0"/>
<line x1="183.70" y1="517.10" x2="185.00" y2="517.10" stroke="#444" stroke-width="0.6"/>
<text x="183.70" y="518.70" class="yt">0</text>
<line x1="183.70" y1="509.58" x2="185.00" y2="509.58" stroke="#444" stroke-width="0.6"/>
<text x="183.70" y="511.18" class="yt">2</text>
<line x1="183.70" y1="502.06" x2="185.00" y2="502.06" stroke="#444" stroke-width="0.6"/>
<text x="183.70" y="503.66" class="yt">4</text>
<line x1="183.70" y1="494.54" x2="185.00" y2="494.54" stroke="#444" stroke-width="0.6"/>
<text x="183.70" y="496.14" class="yt">6</text>
<line x1="183.70" y1="487.02" x2="185.00" y2="487.02" stroke="#444" stroke-width="0.6"/>
<text x="183.70" y="488.62" class="yt">8</text>
<line x1="183.70" y1="479.50" x2="185.00" y2="479.50" stroke="#444" stroke-width="0.6"/>
<text x="183.70" y="481.10" class="yt">10</text>
<line x1="185.00" y1="517.10" x2="185.00" y2="518.40" stroke="#444" stroke-width="0.6"/>
<text x="185.00" y="521.50" class="xtb">0</text>
<line x1="196.44" y1="517.10" x2="196.44" y2="518.40" stroke="#444" stroke-width="0.6"/>
<text x="196.44" y="521.50" class="xtb">1000</text>
<line x1="207.88" y1="517.10" x2="207.88" y2="518.40" stroke="#444" stroke-width="0.6"/>
<text x="207.88" y="521.50" class="xtb">2000</text>
<line x1="219.32" y1="517.10" x2="219.32" y2="518.40" stroke="#444" stroke-width="0.6"/>
<text x="219.32" y="521.50" class="xtb">3000</text>
<line x1="230.76" y1="517.10" x2="230.76" y2="518.40" stroke="#444" stroke-width="0.6"/>
<text x="230.76" y="521.50" class="xtb">4000</text>
<line x1="242.20" y1="517.10" x2="242.20" y2="518.40" stroke="#444" stroke-width="0.6"/>
<text x="242.20" y="521.50" class="xtb">5000</text>
<polyline points="190.61,490.78 191.01,494.54 195.58,494.54 195.98,498.30 199.47,498.30 199.76,502.06 200.33,505.82 201.02,509.58 201.42,505.82 205.71,505.82 206.39,509.58 214.63,509.58 214.63,505.82 229.27,505.82 229.27,498.30" fill="none" stroke="#a3a0df" stroke-width="0.9" stroke-linejoin="round"/>
<rect x="261.20" y="479.50" width="56.50" height="37.60" fill="none" stroke="#858585" stroke-width="1.0"/>
<line x1="259.90" y1="517.10" x2="261.20" y2="517.10" stroke="#444" stroke-width="0.6"/>
<text x="259.90" y="518.70" class="yt">0</text>
<line x1="259.90" y1="509.58" x2="261.20" y2="509.58" stroke="#444" stroke-width="0.6"/>
<text x="259.90" y="511.18" class="yt">2</text>
<line x1="259.90" y1="502.06" x2="261.20" y2="502.06" stroke="#444" stroke-width="0.6"/>
<text x="259.90" y="503.66" class="yt">4</text>
<line x1="259.90" y1="494.54" x2="261.20" y2="494.54" stroke="#444" stroke-width="0.6"/>
<text x="259.90" y="496.14" class="yt">6</text>
<line x1="259.90" y1="487.02" x2="261.20" y2="487.02" stroke="#444" stroke-width="0.6"/>
<text x="259.90" y="488.62" class="yt">8</text>
<line x1="259.90" y1="479.50" x2="261.20" y2="479.50" stroke="#444" stroke-width="0.6"/>
<text x="259.90" y="481.10" class="yt">10</text>
<line x1="261.20" y1="517.10" x2="261.20" y2="518.40" stroke="#444" stroke-width="0.6"/>
<text x="261.20" y="521.50" class="xtb">0</text>
<line x1="272.50" y1="517.10" x2="272.50" y2="518.40" stroke="#444" stroke-width="0.6"/>
<text x="272.50" y="521.50" class="xtb">1000</text>
<line x1="283.80" y1="517.10" x2="283.80" y2="518.40" stroke="#444" stroke-width="0.6"/>
<text x="283.80" y="521.50" class="xtb">2000</text>
<line x1="295.10" y1="517.10" x2="295.10" y2="518.40" stroke="#444" stroke-width="0.6"/>
<text x="295.10" y="521.50" class="xtb">3000</text>
<line x1="306.40" y1="517.10" x2="306.40" y2="518.40" stroke="#444" stroke-width="0.6"/>
<text x="306.40" y="521.50" class="xtb">4000</text>
<line x1="317.70" y1="517.10" x2="317.70" y2="518.40" stroke="#444" stroke-width="0.6"/>
<text x="317.70" y="521.50" class="xtb">5000</text>
<polyline points="266.17,488.15 266.85,494.54 269.11,496.04 270.13,502.06 271.60,498.30 273.18,498.30 273.57,505.82 277.02,505.82 277.42,513.34 296.34,513.34 296.34,498.30" fill="none" stroke="#a3a0df" stroke-width="0.9" stroke-linejoin="round"/>
<text x="34" y="282.9" class="cap" textLength="77" lengthAdjust="spacing">x = time after NEBD (min)</text>
<text x="34" y="289.2" class="cap" textLength="106.6" lengthAdjust="spacing">y = no. uncongressed chromosomes</text>
<text x="34" y="537.5" class="cap" textLength="77" lengthAdjust="spacing">x = time after NEBD (min)</text>
<text x="34" y="544.1" class="cap" textLength="106.6" lengthAdjust="spacing">y = no. uncongressed chromosomes</text>
<line x1="331.95" y1="314.8" x2="331.95" y2="415.8" stroke="#959595" stroke-width="0.8"/>
<line x1="331.1" y1="421.5" x2="331.1" y2="528.2" stroke="#8f8f8f" stroke-width="0.8"/>
<g transform="translate(343.3,366.3) rotate(-90) scale(1,1.1)"><text x="0" y="0" class="side">Prometaphases</text><text x="0" y="6.4" class="side" word-spacing="0.5">arrested in phase <tspan letter-spacing="0.5">II</tspan></text></g>
<g transform="translate(343.3,475.6) rotate(-90) scale(1,1.1)"><text x="0" y="0" class="side" word-spacing="0.2">Prometaphases affected by</text><text x="0" y="6.4" class="side">cohesion fatigue</text></g>
</g>
</svg>
</body></html>
